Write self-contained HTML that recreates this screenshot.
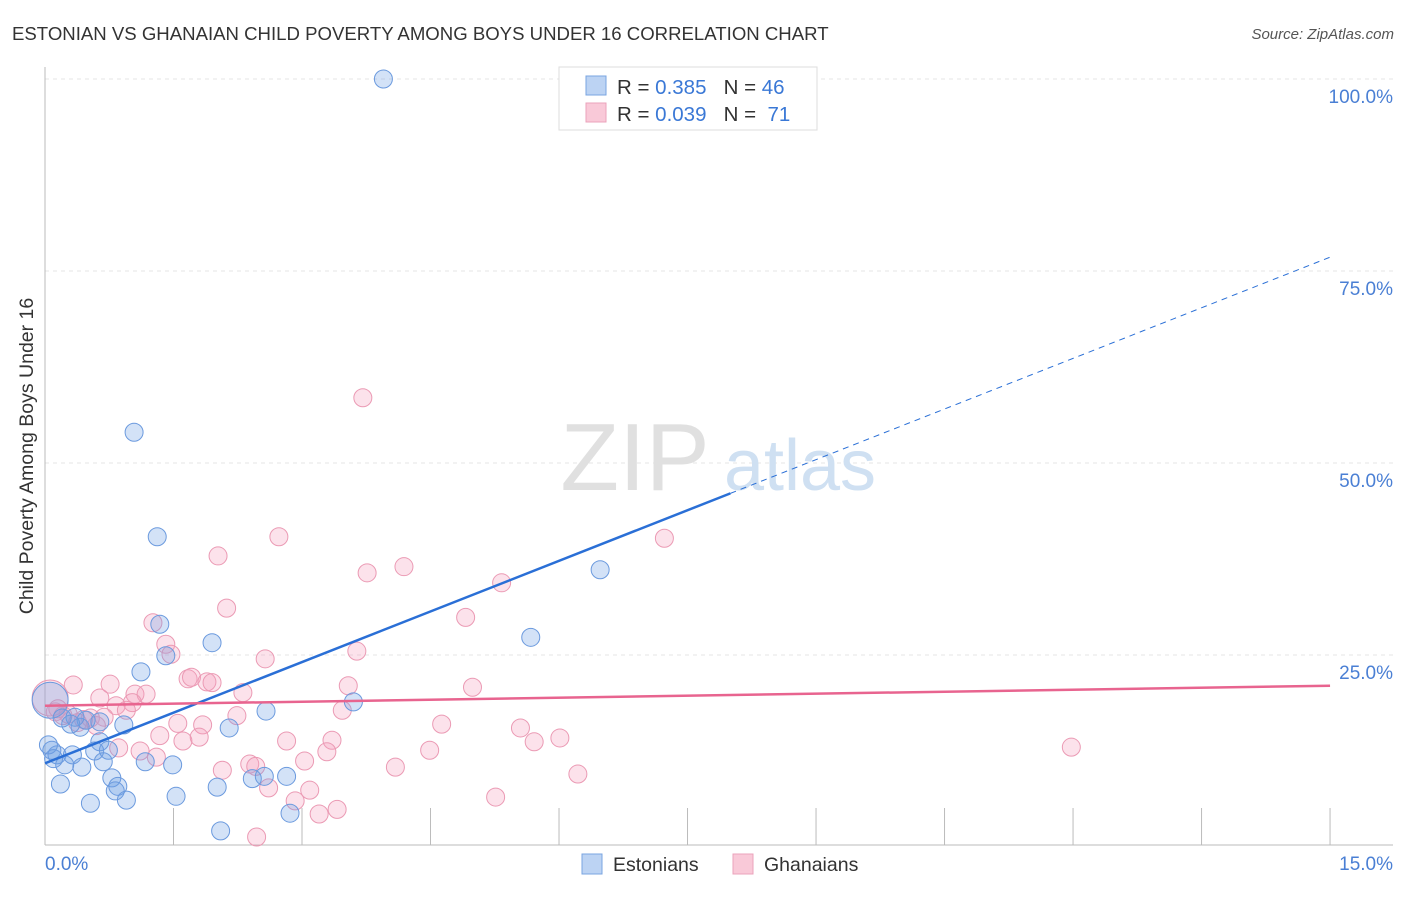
<!DOCTYPE html>
<html><head><meta charset="utf-8"><style>
body{margin:0;background:#fff;font-family:"Liberation Sans",sans-serif;}
svg text{font-family:"Liberation Sans",sans-serif;}
</style></head><body>
<svg width="1406" height="892" xmlns="http://www.w3.org/2000/svg">
<text x="12" y="40" font-size="18.6" fill="#333">ESTONIAN VS GHANAIAN CHILD POVERTY AMONG BOYS UNDER 16 CORRELATION CHART</text>
<text x="1394" y="39" font-size="15" fill="#555" font-style="italic" text-anchor="end">Source: ZipAtlas.com</text>
<g id="grid"></g>
<g>
<text x="635" y="490" font-size="96" font-family="Liberation Serif" fill="#e0e0e0" text-anchor="middle">ZIP</text>
<text x="800" y="490" font-size="72" fill="#cfe0f2" text-anchor="middle">atlas</text>
</g>
<line x1="45" y1="67" x2="45" y2="845" stroke="#bbb"/>
<line x1="45" y1="845" x2="1393" y2="845" stroke="#bbb"/>
<text x="33" y="456" font-size="19.5" fill="#333" text-anchor="middle" transform="rotate(-90 33 456)">Child Poverty Among Boys Under 16</text>
<text x="45" y="870" font-size="19" fill="#4a7fd4">0.0%</text>
<text x="1393" y="870" font-size="19" fill="#4a7fd4" text-anchor="end">15.0%</text>
<g id="pts"></g>
<g id="lines"></g>
<g>
<rect x="559" y="67" width="258" height="63" fill="#fff" stroke="#ddd"/>
<rect x="586" y="76" width="20" height="19" fill="#bcd3f3" stroke="#7aa5e0"/>
<rect x="586" y="103" width="20" height="19" fill="#f9c9d8" stroke="#eba3bb"/>
<text x="617" y="94" font-size="20.5" fill="#333">R = <tspan fill="#3a78d6">0.385</tspan>&#160;&#160;&#160;N = <tspan fill="#3a78d6">46</tspan></text>
<text x="617" y="121" font-size="20.5" fill="#333">R = <tspan fill="#3a78d6">0.039</tspan>&#160;&#160;&#160;N = &#160;<tspan fill="#3a78d6">71</tspan></text>
</g>
<g>
<rect x="582" y="854" width="20" height="20" fill="#bcd3f3" stroke="#7aa5e0"/>
<text x="613" y="871" font-size="19.5" fill="#333">Estonians</text>
<rect x="733" y="854" width="20" height="20" fill="#f9c9d8" stroke="#eba3bb"/>
<text x="764" y="871" font-size="19.5" fill="#333">Ghanaians</text>
</g>
</svg>
<script>
const yTicks=[25,50,75,100];
const xTicks=[0,1.5,3,4.5,6,7.5,9,10.5,12,13.5,15];
const estX=[3.95,1.04,1.31,6.48,5.67,1.34,1.95,1.12,1.41,3.60,2.58,0.92,2.15,0.41,0.48,0.08,0.14,0.32,0.64,0.58,0.74,0.23,0.43,0.68,1.17,1.49,0.18,0.78,0.85,0.82,0.95,0.53,1.53,2.01,2.42,2.56,2.82,2.05,2.86,0.04,0.06,0.20,0.35,0.64,0.10,0.30];
const estY=[100,54.0,40.4,36.1,27.3,29.0,26.6,22.8,24.9,18.9,17.7,15.9,15.5,15.6,16.5,12.6,12.0,12.0,13.7,12.5,12.6,10.7,10.4,11.1,11.1,10.7,8.2,9.0,7.9,7.3,6.1,5.7,6.6,7.8,8.9,9.2,9.2,2.1,4.4,13.3,19.1,16.8,16.9,16.3,11.5,16.0];
const ghaX=[3.71,2.73,7.23,2.02,4.19,3.76,5.33,2.12,4.91,1.26,1.41,1.47,2.57,3.64,11.98,0.33,0.76,1.67,1.71,1.89,1.95,2.31,3.54,4.99,0.64,1.05,1.18,1.02,0.83,0.95,3.47,2.24,0.69,0.53,0.27,0.12,1.55,1.84,4.63,5.55,1.34,1.61,1.80,2.82,3.35,5.71,6.01,0.86,1.11,1.30,3.29,4.49,2.39,3.03,2.07,2.46,4.09,6.22,2.61,2.92,3.09,3.20,3.41,5.26,2.47,0.06,0.21,0.45,0.60,0.38,0.15];
const ghaY=[58.5,40.4,40.2,37.9,36.5,35.7,34.4,31.1,29.9,29.2,26.4,25.1,24.5,25.5,13.0,21.1,21.2,21.9,22.1,21.5,21.4,20.1,21.0,20.8,19.4,19.9,19.9,18.8,18.4,17.8,17.8,17.1,16.9,16.8,17.3,17.6,16.1,15.9,16.0,15.5,14.5,13.8,14.3,13.8,13.9,13.7,14.2,12.9,12.5,11.7,12.4,12.6,10.8,11.2,10.0,10.5,10.4,9.5,7.7,6.0,7.4,4.3,4.9,6.5,1.3,19.4,17.1,16.6,15.8,16.2,18.0];
const estTrend=[10.9,76.8];
const ghaTrend=[18.4,21.0];
const NS='http://www.w3.org/2000/svg';
const X=v=>45+v*85.67, Y=v=>847-v*7.68;
function mk(t,a,p){const e=document.createElementNS(NS,t);for(const k in a)e.setAttribute(k,a[k]);p.appendChild(e);return e;}
const grid=document.getElementById('grid');
yTicks.forEach(t=>{
 const l=mk('line',{x1:45,x2:1393,y1:Y(t),y2:Y(t),stroke:'#e4e4e4','stroke-dasharray':'4,4'},grid);
 
 
 const tx=mk('text',{x:1393,y:Y(t)+24,'font-size':19,fill:'#4a7fd4','text-anchor':'end'},grid);
 tx.textContent=t.toFixed(1)+'%';
 
 
});
xTicks.forEach(t=>{
 const l=mk('line',{x1:X(t),x2:X(t),y1:808,y2:845,stroke:'#bbb'},grid);
 
 
});
const pts=document.getElementById('pts');
function draw(xs,ys,fill,stroke,name){
 xs.forEach((x,i)=>{
  const big=(x<0.1&&ys[i]>18.5&&ys[i]<20);
  const c=mk('circle',{cx:X(x),cy:Y(ys[i]),r:big?18:9,fill:fill,stroke:stroke,'stroke-width':1},pts);
  
  
 });
}
draw(ghaX,ghaY,'rgba(244,160,190,0.3)','#eb9ab4','ghanaian-point');
draw(estX,estY,'rgba(110,160,230,0.3)','#6b9ade','estonian-point');
const lines=document.getElementById('lines');
const bx=8;
const by=estTrend[0]+(estTrend[1]-estTrend[0])*bx/15;
let l=mk('line',{x1:X(0),y1:Y(estTrend[0]),x2:X(bx),y2:Y(by),stroke:'#2a6fd6','stroke-width':2.5},lines);


l=mk('line',{x1:X(bx),y1:Y(by),x2:X(15),y2:Y(estTrend[1]),stroke:'#2a6fd6','stroke-width':1,'stroke-dasharray':'6,5'},lines);


l=mk('line',{x1:X(0),y1:Y(ghaTrend[0]),x2:X(15),y2:Y(ghaTrend[1]),stroke:'#e8648f','stroke-width':2.5},lines);


</script>
</body></html>
